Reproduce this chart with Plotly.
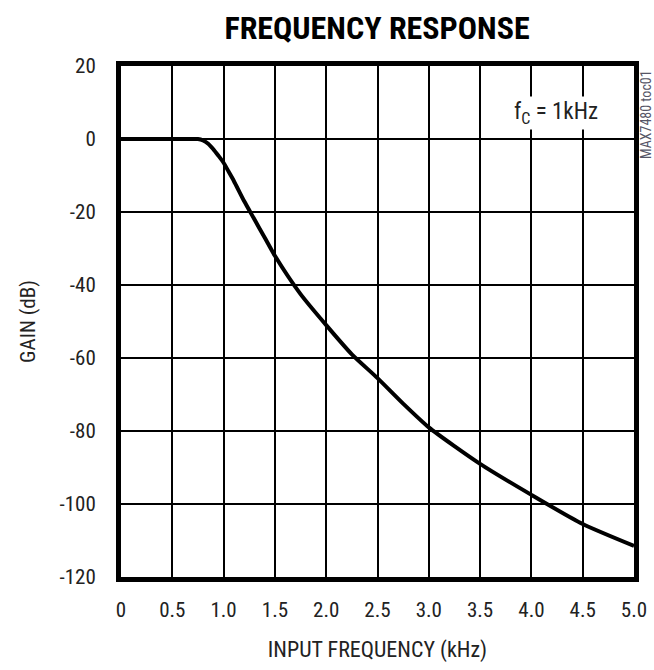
import plotly.graph_objects as go

freq_khz = [0, 0.5, 0.7, 0.75, 0.8, 0.85, 0.9, 0.95, 1.0, 1.05, 1.1, 1.2, 1.3, 1.4, 1.5,
            1.75, 2.0, 2.25, 2.5, 2.75, 3.0, 3.5, 4.0, 4.5, 5.0]
gain_db = [0, 0, 0, 0, -0.4, -1.3, -2.8, -4.6, -6.5, -9, -11.5, -17, -22, -27, -32,
           -42.5, -51, -59, -65.5, -72.5, -79, -89, -97.5, -105.5, -111.5]

x_ticks = [0, 0.5, 1.0, 1.5, 2.0, 2.5, 3.0, 3.5, 4.0, 4.5, 5.0]
x_tick_labels = ["0", "0.5", "1.0", "1.5", "2.0", "2.5", "3.0", "3.5", "4.0", "4.5", "5.0"]
y_ticks = [20, 0, -20, -40, -60, -80, -100, -120]
y_tick_labels = ["20", "0", "-20", "-40", "-60", "-80", "-100", "-120"]

FONT = "Roboto Condensed, Liberation Sans Narrow, sans-serif"

# plot-area geometry in pixels
L, R, T, B = 121, 20, 66, 93
W, H = 654, 670
PW, PH = W - L - R, H - T - B

fig = go.Figure()
fig.add_trace(go.Scatter(
    x=freq_khz, y=gain_db, mode="lines",
    line=dict(color="black", width=4, shape="spline", smoothing=0.6),
    hoverinfo="skip", showlegend=False,
))

fig.update_layout(
    width=W, height=H,
    margin=dict(l=L, r=R, t=T, b=B, autoexpand=False),
    paper_bgcolor="white", plot_bgcolor="white",
    font=dict(family=FONT, color="#222", size=21),
    title=dict(text="<b>FREQUENCY RESPONSE</b>", x=377 / W, xanchor="center",
               y=1 - 28 / H, yanchor="middle",
               font=dict(family=FONT, size=32, color="black")),
    xaxis=dict(range=[0, 5], tickvals=x_ticks, ticktext=x_tick_labels,
               showgrid=True, gridcolor="black", gridwidth=2,
               showline=True, linecolor="black", linewidth=5, mirror=True,
               ticks="", ticklen=0, zeroline=False, ticklabelstandoff=10,
               tickfont=dict(size=21), automargin=False,
               title=dict(text="INPUT FREQUENCY (kHz)", standoff=22,
                          font=dict(size=22))),
    yaxis=dict(range=[-120, 20], tickvals=y_ticks, ticktext=y_tick_labels,
               showgrid=True, gridcolor="black", gridwidth=2,
               showline=True, linecolor="black", linewidth=5, mirror=True,
               ticks="", ticklen=0, zeroline=False, ticklabelstandoff=16,
               tickfont=dict(size=21), automargin=False,
               title=dict(text="GAIN (dB)", standoff=20, font=dict(size=21))),
    annotations=[
        dict(x=4.24, y=7.1, xref="x", yref="y",
             text="f<sub>C</sub> = 1kHz", showarrow=False,
             bgcolor="white", font=dict(family=FONT, size=23, color="#222")),
        dict(x=(646 - L) / PW, y=(H - B - 115) / PH, xref="paper", yref="paper",
             xanchor="center", yanchor="middle",
             text="MAX7480 toc01", showarrow=False, textangle=-90,
             font=dict(family=FONT, size=14, color="#556")),
    ],
)

fig.write_html("out.html")
